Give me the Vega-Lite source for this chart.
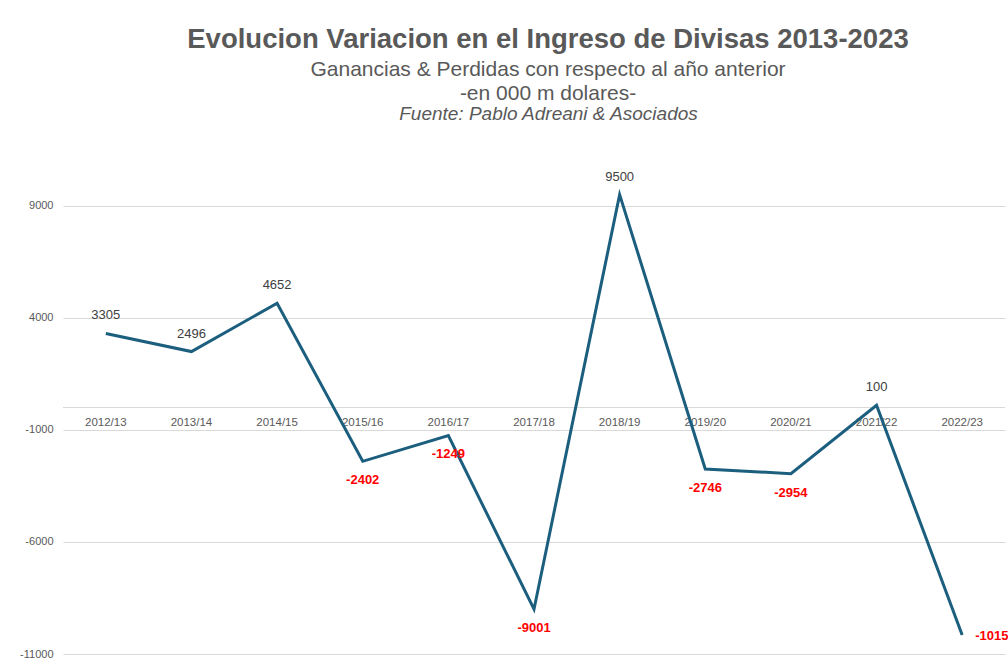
{
  "$schema": "https://vega.github.io/schema/vega-lite/v6.json",
  "width": 942,
  "height": 493,
  "autosize": {"type": "none"},
  "padding": {"left": 63, "top": 161, "right": 3, "bottom": 9},
  "background": "white",
  "config": {
    "view": {"stroke": null},
    "font": "Liberation Sans",
    "axisY": {"domain": false, "ticks": false, "labelPadding": 10, "labelFontSize": 11, "labelColor": "#595959",
      "labelFont": "Liberation Sans", "grid": true, "gridColor": "#d9d9d9", "gridWidth": 1}
  },
  "title": {
    "text": "Evolucion Variacion en el Ingreso de Divisas 2013-2023",
    "subtitle": ["Ganancias & Perdidas con respecto al año anterior", "-en 000 m dolares-"],
    "anchor": "middle",
    "dx": 14,
    "font": "Liberation Sans",
    "fontSize": 27.5,
    "fontWeight": "bold",
    "color": "#595959",
    "subtitleFont": "Liberation Sans",
    "subtitleFontSize": 21,
    "subtitleColor": "#595959",
    "subtitlePadding": 6,
    "subtitleLineHeight": 24,
    "offset": 0
  },
  "data": {
    "values": [
      {"period": "2012/13", "value": 3305},
      {"period": "2013/14", "value": 2496},
      {"period": "2014/15", "value": 4652},
      {"period": "2015/16", "value": -2402},
      {"period": "2016/17", "value": -1249},
      {"period": "2017/18", "value": -9001},
      {"period": "2018/19", "value": 9500},
      {"period": "2019/20", "value": -2746},
      {"period": "2020/21", "value": -2954},
      {"period": "2021/22", "value": 100},
      {"period": "2022/23", "value": -10150}
    ]
  },
  "layer": [
    {
      "data": {"values": [{}]},
      "mark": {"type": "rule", "color": "#d9d9d9", "strokeWidth": 1},
      "encoding": {"y": {"datum": 0, "type": "quantitative", "scale": {"domain": [-11000, 11000], "nice": false, "zero": false},
        "axis": {"values": [9000, 4000, -1000, -6000, -11000], "title": null, "labelColor": "#595959", "labelExpr": "datum.value + ''"}}}
    },
    {
      "mark": {"type": "text", "fontSize": 11.5, "color": "#595959", "baseline": "middle", "dy": 15},
      "encoding": {
        "x": {"field": "period", "type": "ordinal", "sort": null, "scale": {"type": "point", "padding": 0.5},
          "axis": {"orient": "top", "labels": false, "ticks": false, "domain": false, "grid": false,
            "title": "Fuente: Pablo Adreani & Asociados", "titleFont": "Liberation Sans", "titleFontStyle": "italic",
            "titleFontWeight": "normal", "titleFontSize": 19, "titleColor": "#595959", "titlePadding": 38,
            "titleX": 485, "titleAlign": "center"}},
        "y": {"datum": 0, "type": "quantitative",
          "axis": {"values": [9000, 4000, -1000, -6000, -11000], "title": null, "labelColor": "#595959", "labelExpr": "datum.value + ''"}},
        "text": {"field": "period", "type": "nominal"}
      }
    },
    {
      "mark": {"type": "line", "color": "#1b5e7e", "strokeWidth": 3},
      "encoding": {
        "x": {"field": "period", "type": "ordinal", "sort": null},
        "y": {"field": "value", "type": "quantitative",
          "axis": {"values": [9000, 4000, -1000, -6000, -11000], "title": null, "labelColor": "#595959", "labelExpr": "datum.value + ''"}}
      }
    },
    {
      "transform": [{"filter": "datum.value >= 0"}],
      "mark": {"type": "text", "fontSize": 13, "color": "#404040", "baseline": "middle", "dy": -18},
      "encoding": {
        "x": {"field": "period", "type": "ordinal", "sort": null},
        "y": {"field": "value", "type": "quantitative",
          "axis": {"values": [9000, 4000, -1000, -6000, -11000], "title": null, "labelColor": "#595959", "labelExpr": "datum.value + ''"}},
        "text": {"field": "value", "type": "nominal"}
      }
    },
    {
      "transform": [{"filter": "datum.value < 0 && datum.period != '2022/23'"}],
      "mark": {"type": "text", "fontSize": 13, "fontWeight": "bold", "color": "#ff0000", "baseline": "middle", "dy": 19},
      "encoding": {
        "x": {"field": "period", "type": "ordinal", "sort": null},
        "y": {"field": "value", "type": "quantitative",
          "axis": {"values": [9000, 4000, -1000, -6000, -11000], "title": null, "labelColor": "#595959", "labelExpr": "datum.value + ''"}},
        "text": {"field": "value", "type": "nominal"}
      }
    },
    {
      "transform": [{"filter": "datum.period == '2022/23'"}],
      "mark": {"type": "text", "fontSize": 13, "fontWeight": "bold", "color": "#ff0000", "baseline": "middle", "align": "left", "dx": 13, "dy": 1},
      "encoding": {
        "x": {"field": "period", "type": "ordinal", "sort": null},
        "y": {"field": "value", "type": "quantitative",
          "axis": {"values": [9000, 4000, -1000, -6000, -11000], "title": null, "labelColor": "#595959", "labelExpr": "datum.value + ''"}},
        "text": {"field": "value", "type": "nominal"}
      }
    }
  ]
}
